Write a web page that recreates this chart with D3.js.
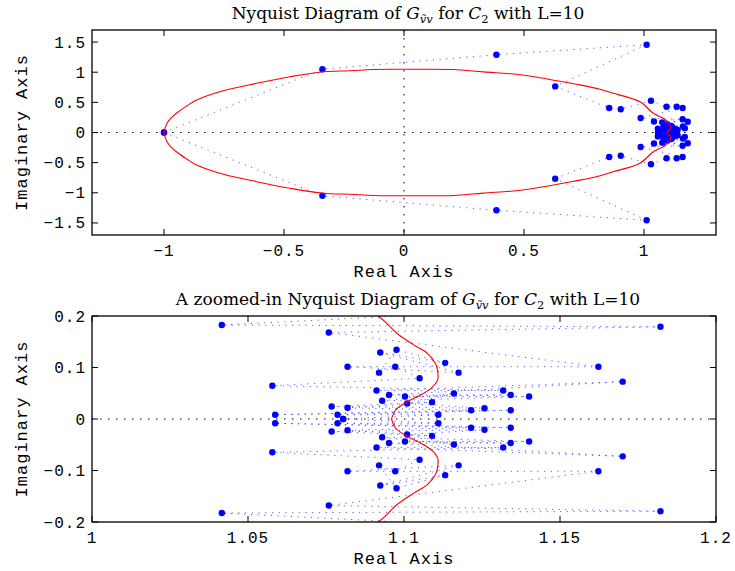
<!DOCTYPE html>
<html><head><meta charset="utf-8">
<script src="https://cdn.jsdelivr.net/npm/d3@7"></script>
<style>body{margin:0;background:#fff}</style>
</head><body>
<svg id="c" width="735" height="571"></svg>
<script>
// Continuous Nyquist curve (red): [Re, Im]
const curveUpper = [
[-1.0,0.0],[-0.995,0.08],[-0.985,0.17],[-0.968,0.25],[-0.94,0.345],[-0.905,0.44],[-0.864,0.54],[-0.753,0.693],[-0.614,0.816],[-0.475,0.925],
[-0.336,1.008],[-0.225,1.025],[-0.128,1.045],[0.0,1.048],[0.205,1.045],[0.33,1.005],[0.47,0.965],
[0.567,0.909],[0.678,0.83],[0.733,0.79],[0.817,0.716],[0.872,0.65],[0.983,0.51],[1.039,0.318],
[1.08,0.235],[1.0919,0.199],[1.0978,0.166],[1.1031,0.144],[1.1074,0.128],[1.1101,0.108],
[1.1108,0.092],[1.1108,0.076],[1.109,0.0615],[1.1053,0.0466],[1.101,0.0336],[1.0973,0.0175],[1.096,0.0]
];
const curveLower = [
[1.096,0.0],[1.0973,-0.0175],[1.101,-0.0336],[1.1053,-0.0466],[1.109,-0.0615],[1.1108,-0.076],
[1.1108,-0.092],[1.1101,-0.108],[1.1074,-0.128],[1.1031,-0.144],[1.0978,-0.166],[1.0919,-0.199],
[1.08,-0.235],[1.039,-0.318],[0.983,-0.51],[0.872,-0.65],[0.817,-0.716],[0.733,-0.79],[0.678,-0.83],
[0.567,-0.909],[0.47,-0.965],[0.33,-1.005],[0.205,-1.045],[0.0,-1.048],[-0.128,-1.045],[-0.225,-1.025],
[-0.336,-1.008],[-0.475,-0.925],[-0.614,-0.816],[-0.753,-0.693],[-0.864,-0.54],[-0.905,-0.44],[-0.94,-0.345],
[-0.968,-0.25],[-0.985,-0.17],[-0.995,-0.08],[-1.0,0.0]
];
// Discrete frequency points (blue dots joined by a dotted line), in plotting order
const pointsUpper = [
[-1.0,0.0],[-0.34,1.05],[0.385,1.29],[1.011,1.456],[0.63,0.765],[0.855,0.406],[0.903,0.385],
[1.029,0.527],[1.094,0.428],[1.136,0.428],[1.161,0.406],[0.986,0.24],[1.161,0.219],[1.0416,0.1825],
[1.1822,0.179],[1.0759,0.168],[1.1623,0.1015],[1.0819,0.1016],[1.1175,0.090],[1.0924,0.129],
[1.1132,0.109],[1.0976,0.1346],[1.092,0.090],[1.0972,0.1016],[1.105,0.079],[1.0578,0.0647],
[1.1318,0.0553],[1.0912,0.0553],[1.1701,0.0725],[1.0952,0.0467],[1.1342,0.0467],[1.1003,0.0437],
[1.1401,0.0437],[1.093,0.0353],[1.116,0.0495],[1.101,0.030],[1.1258,0.021],[1.0768,0.0243],
[1.109,0.0327],[1.0819,0.0217],[1.1215,0.017],[1.0587,0.0083],[1.1342,0.017],[1.0787,0.0083],
[1.111,0.0083],[1.0805,0.0]
];
const pointsLower = [
[-1.0,0.0],[-0.34,-1.05],[0.385,-1.29],[1.011,-1.456],[0.63,-0.765],[0.855,-0.406],[0.903,-0.385],
[1.029,-0.527],[1.094,-0.428],[1.136,-0.428],[1.161,-0.406],[0.986,-0.24],[1.161,-0.219],[1.0416,-0.1825],
[1.1822,-0.179],[1.0759,-0.168],[1.1623,-0.1015],[1.0819,-0.1016],[1.1175,-0.090],[1.0924,-0.129],
[1.1132,-0.109],[1.0976,-0.1346],[1.092,-0.090],[1.0972,-0.1016],[1.105,-0.079],[1.0578,-0.0647],
[1.1318,-0.0553],[1.0912,-0.0553],[1.1701,-0.0725],[1.0952,-0.0467],[1.1342,-0.0467],[1.1003,-0.0437],
[1.1401,-0.0437],[1.093,-0.0353],[1.116,-0.0495],[1.101,-0.030],[1.1258,-0.021],[1.0768,-0.0243],
[1.109,-0.0327],[1.0819,-0.0217],[1.1215,-0.017],[1.0587,-0.0083],[1.1342,-0.017],[1.0787,-0.0083],
[1.111,-0.0083],[1.0805,0.0]
];
const topXTicks = [-1,-0.5,0,0.5,1];
const topXLabels = ["\u22121","\u22120.5","0","0.5","1"];
const topYTicks = [-1.5,-1,-0.5,0,0.5,1,1.5];
const topYLabels = ["\u22121.5","\u22121","\u22120.5","0","0.5","1","1.5"];
const botXTicks = [1,1.05,1.1,1.15,1.2];
const botXLabels = ["1","1.05","1.1","1.15","1.2"];
const botYTicks = [-0.2,-0.1,0,0.1,0.2];
const botYLabels = ["\u22120.2","\u22120.1","0","0.1","0.2"];

const svg = d3.select("#c");
const mono = "'Liberation Mono','DejaVu Sans Mono',monospace";
const serif = "'DejaVu Serif','Liberation Serif',serif";

function panel(o){
  const x = d3.scaleLinear().domain(o.xd).range([o.l,o.r]);
  const y = d3.scaleLinear().domain(o.yd).range([o.b,o.t]);
  const g = svg.append("g");
  const cid = "clip"+o.id;
  svg.append("defs").append("clipPath").attr("id",cid)
    .append("rect").attr("x",o.l).attr("y",o.t).attr("width",o.r-o.l).attr("height",o.b-o.t);
  const inner = g.append("g").attr("clip-path",`url(#${cid})`);
  inner.append("line").attr("x1",o.l).attr("x2",o.r).attr("y1",y(0)).attr("y2",y(0))
    .attr("stroke","#000").attr("stroke-width",1).attr("stroke-dasharray","1.5,6.5");
  if (o.xd[0] < 0 && o.xd[1] > 0)
    inner.append("line").attr("y1",o.t).attr("y2",o.b).attr("x1",x(0)).attr("x2",x(0))
      .attr("stroke","#000").attr("stroke-width",1).attr("stroke-dasharray","1.5,6.5");
  const line = d3.line().x(d=>x(d[0])).y(d=>y(d[1]));
  [pointsUpper, pointsLower].forEach(p=>{
    inner.append("path").attr("d",line(p)).attr("fill","none").attr("stroke","#0000ff")
      .attr("stroke-width",1).attr("stroke-opacity",0.65).attr("stroke-dasharray","1.2,5.5");
  });
  [pointsUpper, pointsLower].forEach(p=>{
    inner.selectAll(null).data(p).enter().append("circle")
      .attr("cx",d=>x(d[0])).attr("cy",d=>y(d[1])).attr("r",3.2).attr("fill","#0000ff");
  });
  const smooth = d3.line().x(d=>x(d[0])).y(d=>y(d[1])).curve(d3.curveCatmullRom);
  [curveUpper, curveLower].forEach(c=>{
    inner.append("path").attr("d",smooth(c)).attr("fill","none").attr("stroke","#ff0000").attr("stroke-width",1.1);
  });
  g.append("rect").attr("x",o.l).attr("y",o.t).attr("width",o.r-o.l).attr("height",o.b-o.t)
    .attr("fill","none").attr("stroke","#000").attr("stroke-width",1.3);
  const tl = 6;
  o.xt.forEach((v,i)=>{
    g.append("line").attr("x1",x(v)).attr("x2",x(v)).attr("y1",o.b).attr("y2",o.b-tl).attr("stroke","#000");
    g.append("line").attr("x1",x(v)).attr("x2",x(v)).attr("y1",o.t).attr("y2",o.t+tl).attr("stroke","#000");
    g.append("text").attr("x",x(v)).attr("y",o.b+21).attr("text-anchor","middle")
      .attr("font-family",mono).attr("font-size",16).attr("letter-spacing",1).text(o.xl[i]);
  });
  o.yt.forEach((v,i)=>{
    g.append("line").attr("y1",y(v)).attr("y2",y(v)).attr("x1",o.l).attr("x2",o.l+tl).attr("stroke","#000");
    g.append("line").attr("y1",y(v)).attr("y2",y(v)).attr("x1",o.r).attr("x2",o.r-tl).attr("stroke","#000");
    g.append("text").attr("x",o.l-6).attr("y",y(v)+5.5).attr("text-anchor","end")
      .attr("font-family",mono).attr("font-size",16).attr("letter-spacing",1).text(o.yl[i]);
  });
  g.append("text").attr("x",(o.l+o.r)/2).attr("y",o.b+42).attr("text-anchor","middle")
    .attr("font-family",mono).attr("font-size",17).attr("letter-spacing",1).text("Real Axis");
  g.append("text").attr("transform",`translate(27,${(o.t+o.b)/2}) rotate(-90)`).attr("text-anchor","middle")
    .attr("font-family",mono).attr("font-size",17).attr("letter-spacing",1).text("Imaginary Axis");
  const t = g.append("text").attr("x",(o.l+o.r)/2+4).attr("y",o.t-11).attr("text-anchor","middle")
    .attr("font-family",serif).attr("font-size",17);
  t.append("tspan").text(o.titlePre);
  t.append("tspan").attr("font-style","italic").text("G");
  t.append("tspan").attr("font-style","italic").attr("font-size",11.5).attr("dy",4).text("v\u0303v");
  t.append("tspan").attr("dy",-4).text(" for ");
  t.append("tspan").attr("font-style","italic").text("C");
  t.append("tspan").attr("font-size",11.5).attr("dy",4).text("2");
  t.append("tspan").attr("dy",-4).text(" with L=10");
}
panel({id:1,l:92,r:716,t:30,b:235,xd:[-1.3,1.3],yd:[-1.7,1.7],xt:topXTicks,xl:topXLabels,yt:topYTicks,yl:topYLabels,
  titlePre:"Nyquist Diagram of "});
panel({id:2,l:92,r:716,t:316,b:522,xd:[1,1.2],yd:[-0.2,0.2],xt:botXTicks,xl:botXLabels,yt:botYTicks,yl:botYLabels,
  titlePre:"A zoomed-in Nyquist Diagram of "});
</script>
</body></html>
